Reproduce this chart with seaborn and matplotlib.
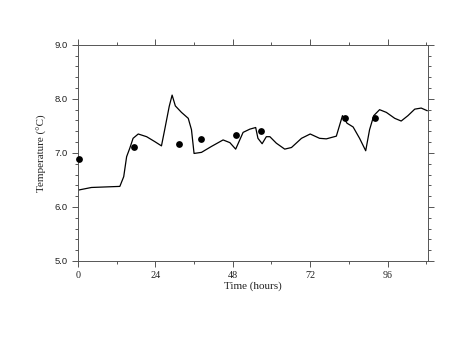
import matplotlib
matplotlib.use("Agg")
import matplotlib.pyplot as plt
import seaborn as sns
from matplotlib.ticker import MultipleLocator

# modelled temperature (line)
model_hours = [0, 4.2, 13, 14.2, 15.1, 16.1, 17.1, 18.7, 21.3, 23.8, 25.9, 26.9, 28.3, 29.2,
               30.2, 32.1, 34.2, 35.2, 36, 38.3, 41.4, 45, 47.1, 48.9, 51.2, 53.3, 55.1,
               55.8, 57.1, 58.4, 59.5, 61.5, 64.1, 66.2, 69.3, 72, 74.9, 77, 80.1, 82,
               83.4, 85.3, 87.3, 89.2, 90.4, 91.7, 93.5, 95.6, 98.2, 100.2, 102.3, 104.4,
               106.4, 108.3]
model_temp = [6.31, 6.36, 6.38, 6.56, 6.93, 7.09, 7.27, 7.35, 7.30, 7.21, 7.13, 7.43, 7.86, 8.07,
              7.87, 7.75, 7.64, 7.43, 6.99, 7.01, 7.12, 7.24, 7.19, 7.07, 7.38, 7.44, 7.47,
              7.27, 7.17, 7.30, 7.30, 7.18, 7.07, 7.10, 7.27, 7.35, 7.27, 7.26, 7.31, 7.69,
              7.55, 7.48, 7.27, 7.04, 7.43, 7.69, 7.80, 7.75, 7.64, 7.59, 7.69, 7.81,
              7.83, 7.78]

# observed temperature (dots)
obs_hours = [0.4, 17.3, 31.2, 38.3, 49.1, 56.7, 82.7, 92.2]
obs_temp = [6.88, 7.11, 7.16, 7.25, 7.33, 7.41, 7.64, 7.65]

sns.set_style("ticks")
plt.rcParams['font.family'] = ['Liberation Serif', 'DejaVu Serif']

fig = plt.figure(figsize=(4.75, 3.56), dpi=100)
ax = fig.add_axes([0.164, 0.267, 0.737, 0.607])

sns.lineplot(x=model_hours, y=model_temp, ax=ax, color='black', linewidth=0.9, sort=False)
sns.scatterplot(x=obs_hours, y=obs_temp, ax=ax, color='black', s=24, edgecolor='black',
                linewidth=0, zorder=3, clip_on=False)

ax.set_xlim(0, 108.5)
ax.set_ylim(5.0, 9.0)
ax.xaxis.set_major_locator(MultipleLocator(24))
ax.xaxis.set_minor_locator(MultipleLocator(12))
ax.yaxis.set_major_locator(MultipleLocator(1.0))
ax.yaxis.set_minor_locator(MultipleLocator(0.2))
ax.yaxis.set_major_formatter(plt.FormatStrFormatter('%.1f'))

ax.tick_params(which='both', direction='out', top=True, right=True,
               color='#555555', width=0.7)
ax.tick_params(which='major', length=4)
ax.tick_params(which='minor', length=2)
ax.tick_params(axis='x', labelsize=7.3, labelcolor='#222222')
ax.tick_params(axis='y', labelsize=6.8, labelcolor='#222222')
for lbl in ax.get_yticklabels():
    lbl.set_fontfamily(['Liberation Sans', 'DejaVu Sans'])
for sp in ax.spines.values():
    sp.set_linewidth(0.7)
    sp.set_color('#555555')

ax.set_xlabel('Time (hours)', fontsize=8, labelpad=1, color='#222222')
ax.set_ylabel('Temperature (°C)', fontsize=8, labelpad=5, color='#222222')

fig.savefig('out.png', dpi=100)
plt.close(fig)
